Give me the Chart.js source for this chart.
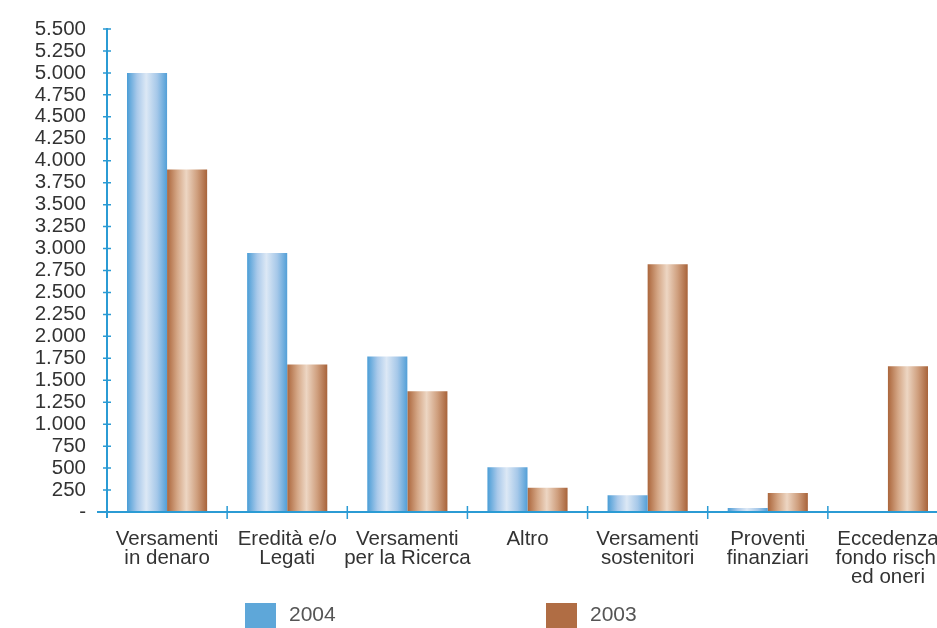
<!DOCTYPE html>
<html>
<head>
<meta charset="utf-8">
<script src="https://cdn.jsdelivr.net/npm/chart.js@4/dist/chart.umd.min.js"></script>
<style>
  html, body { margin: 0; padding: 0; background: #fff; overflow: hidden; }
  #wrap { position: relative; width: 937px; height: 628px; overflow: hidden; }
  #box { position: absolute; left: 0; top: 0; width: 960px; height: 628px; }
  .leg { position: absolute; top: 601px; font: 21px "Liberation Sans", Arial, sans-serif; color: #555; }
  .leg span.sw { position: absolute; left: 0; top: 2px; width: 31px; height: 26px; }
  .leg span.tx { position: absolute; left: 44px; top: 1px; white-space: nowrap; }
</style>
</head>
<body>
<div id="wrap">
  <div id="box"><canvas id="c"></canvas></div>
  <div class="leg" style="left:245px"><span class="sw" style="background:#5ea7d9"></span><span class="tx">2004</span></div>
  <div class="leg" style="left:546px"><span class="sw" style="background:#b06d44"></span><span class="tx">2003</span></div>
</div>
<script>
// Income sources, thousands of euro
const categories = [
  ["Versamenti", "in denaro"],
  ["Eredità e/o", "Legati"],
  ["Versamenti", "per la Ricerca"],
  ["Altro"],
  ["Versamenti", "sostenitori"],
  ["Proventi", "finanziari"],
  ["Eccedenza", "fondo rischi", "ed oneri"]
];
const values2004 = [5000, 2950, 1770, 510, 190, 45, 0];
const values2003 = [3900, 1680, 1375, 275, 2820, 215, 1660];
const yMin = 0, yMax = 5500, yStep = 250;

const AXIS = '#2b9bd4';
const FONT = '"Liberation Sans", Arial, sans-serif';

function fmt(v) {
  if (v === 0) return '-';
  return String(v).replace(/\B(?=(\d{3})+(?!\d))/g, '.');
}

// Horizontal shading across each bar: darker edges, light centre
const shading = {
  id: 'shading',
  beforeDatasetsDraw(chart) {
    const ctx = chart.ctx;
    const palettes = [
      ['#4a9dd6', '#a9c9ea', '#dce8f5', '#a6c8e9', '#529fd7'],
      ['#ab663c', '#d4a685', '#edd6c3', '#cf9f7e', '#a8633a']
    ];
    chart.data.datasets.forEach((ds, i) => {
      const meta = chart.getDatasetMeta(i);
      meta.data.forEach(bar => {
        const l = bar.x - bar.width / 2, r = bar.x + bar.width / 2;
        const g = ctx.createLinearGradient(l, 0, r, 0);
        const p = palettes[i];
        g.addColorStop(0, p[0]);
        g.addColorStop(0.25, p[1]);
        g.addColorStop(0.48, p[2]);
        g.addColorStop(0.75, p[3]);
        g.addColorStop(1, p[4]);
        bar.options.backgroundColor = g;
      });
    });
  }
};

// Axis lines with tick marks crossing them
const axes = {
  id: 'axes',
  afterDatasetsDraw(chart) {
    const ctx = chart.ctx;
    const ys = chart.scales.y, xs = chart.scales.x;
    const a = chart.chartArea;
    const x0 = a.left, y0 = ys.getPixelForValue(0);
    ctx.save();
    ctx.strokeStyle = AXIS;
    ctx.lineWidth = 2;
    ctx.beginPath();
    ctx.moveTo(x0, ys.getPixelForValue(yMax) - 1);
    ctx.lineTo(x0, y0 + 6);
    ctx.moveTo(x0 - 10, y0);
    ctx.lineTo(chart.width, y0);
    ctx.stroke();
    ctx.lineWidth = 1.5;
    ctx.beginPath();
    ys.ticks.forEach(t => {
      if (t.value === 0) return;
      const y = ys.getPixelForValue(t.value);
      ctx.moveTo(x0 - 4, y);
      ctx.lineTo(x0 + 4, y);
    });
    const step = xs.getPixelForValue(1) - xs.getPixelForValue(0);
    for (let i = 0; i < categories.length; i++) {
      const x = xs.getPixelForValue(i) + step / 2;
      ctx.moveTo(x, y0 - 6);
      ctx.lineTo(x, y0 + 7);
    }
    ctx.stroke();
    ctx.restore();
  }
};

new Chart(document.getElementById('c'), {
  type: 'bar',
  data: {
    labels: categories,
    datasets: [
      // scriptable colours keep each bar's options separate, so each can carry its own shading
      { label: '2004', data: values2004, backgroundColor: () => '#5ea7d9', borderWidth: 0 },
      { label: '2003', data: values2003, backgroundColor: () => '#b06d44', borderWidth: 0 }
    ]
  },
  options: {
    responsive: true,
    maintainAspectRatio: false,
    animation: false,
    layout: { padding: { top: 29, right: 12, bottom: 0, left: 0 } },
    categoryPercentage: 0.667,
    barPercentage: 1,
    plugins: { legend: { display: false }, tooltip: { enabled: false } },
    scales: {
      x: {
        grid: { display: false },
        border: { display: false },
        ticks: {
          color: '#333',
          font: { family: FONT, size: 20.5, lineHeight: 0.93 },
          padding: 10,
          maxRotation: 0,
          autoSkip: false
        },
        afterFit(s) { s.height = 116; s.paddingLeft = 0; s.paddingRight = 0; }
      },
      y: {
        min: yMin, max: yMax,
        grid: { display: false, drawTicks: false },
        border: { display: false },
        ticks: {
          stepSize: yStep,
          autoSkip: false,
          color: '#333',
          padding: 21,
          font: { family: FONT, size: 20.5 },
          callback: v => fmt(v)
        },
        afterFit(s) { s.width = 107; s.paddingTop = 0; s.paddingBottom = 0; }
      }
    }
  },
  plugins: [shading, axes]
});
</script>
</body>
</html>
